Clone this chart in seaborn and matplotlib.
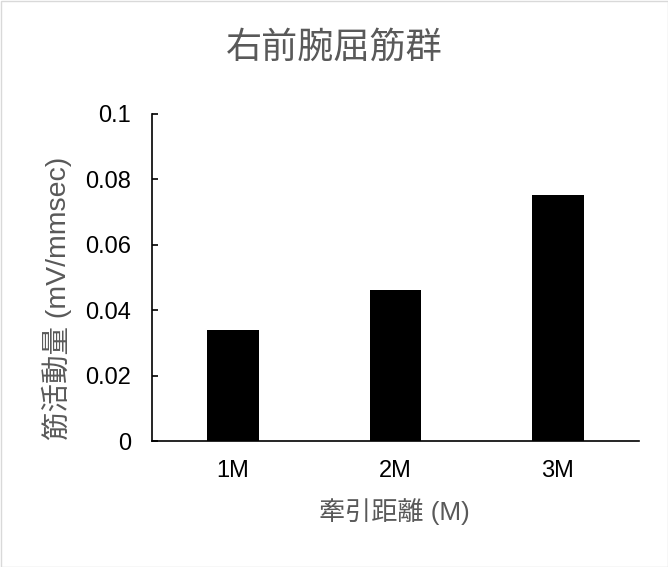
import matplotlib
matplotlib.use("Agg")
import matplotlib.pyplot as plt
import seaborn as sns
import pandas as pd
from matplotlib.patches import Rectangle

categories = ["1M", "2M", "3M"]
values = [0.0339, 0.0461, 0.0752]
yticks = [0, 0.02, 0.04, 0.06, 0.08, 0.1]
ytick_labels = ["0", "0.02", "0.04", "0.06", "0.08", "0.1"]
title = "右前腕屈筋群"
xlabel = "牽引距離 (M)"
ylabel = "筋活動量 (mV/mmsec)"

sns.set_style("white")
plt.rcParams['font.family'] = ['Liberation Sans', 'Noto Sans CJK JP', 'DejaVu Sans']

df = pd.DataFrame({"cat": categories, "val": values})

fig = plt.figure(figsize=(6.68, 5.67), dpi=100)
ax = fig.add_axes([152/668, 1-441/567, (639-152)/668, (441-114)/567])

sns.barplot(data=df, x="cat", y="val", color="black", width=0.32,
            saturation=1, ax=ax, edgecolor="none")

ax.set_xlim(-0.5, 2.5)
ax.set_ylim(0, 0.1)
ax.set_yticks(yticks)
ax.set_yticklabels(ytick_labels)
for s in ["top", "right"]:
    ax.spines[s].set_visible(False)
for s in ["left", "bottom"]:
    ax.spines[s].set_color("black")
    ax.spines[s].set_linewidth(1.2)

ax.tick_params(axis="y", left=True, direction="in", length=4.5, width=1.2,
               color="black", labelsize=17, labelcolor="black", pad=15)
ax.tick_params(axis="x", bottom=False, length=0, labelsize=17,
               labelcolor="black", pad=14)

ax.set_xlabel(xlabel, fontsize=18.8, color="#595959",
              family=['Liberation Sans', 'Noto Sans CJK JP'])
ax.xaxis.set_label_coords(0.497, -0.217)
ax.xaxis.label.set_va("center")
ax.set_ylabel(ylabel, fontsize=20.5, color="#595959",
              family=['Liberation Sans', 'Noto Sans CJK JP'])
ax.yaxis.set_label_coords(-0.195, 0.437)
ax.yaxis.label.set_va("center")

fig.text(0.5, 1-48/567, title, ha="center", va="center", fontsize=26,
         color="#595959", family=['Noto Sans CJK JP'])

fig.patches.append(Rectangle((0.5/668, 0.5/567), 1-1/668, 1-1/567,
                             transform=fig.transFigure, fill=False,
                             edgecolor="#d9d9d9", linewidth=1))

fig.savefig("out.png", dpi=100)
